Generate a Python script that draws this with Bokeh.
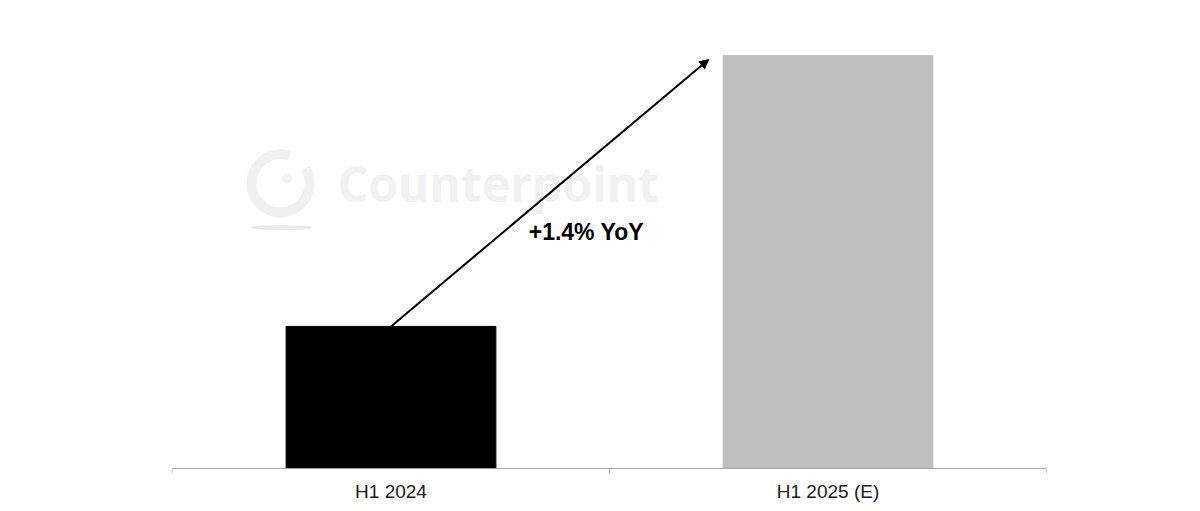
from bokeh.plotting import figure
from bokeh.models import Range1d, FactorRange, Span, Arrow, NormalHead
from bokeh.core.properties import value
from bokeh.embed import file_html
from bokeh.resources import INLINE

# ---- data ----
categories = ["H1 2024", "H1 2025 (E)"]
values = [100.0, 101.4]          # indexed volume (H1 2024 = 100)
bar_colors = ["#000000", "#bfbfbf"]
yoy_label = "+%.1f%% YoY" % ((values[1] / values[0] - 1) * 100)
watermark = "Counterpoint"

# ---- scale settings ----
AXIS_MIN = 99.266
Y_TOP = 101.581
Y_BOTTOM = 99.214
PX_PER_UNIT = 193.57

FONT = "Liberation Sans"

p = figure(x_range=FactorRange(*categories), y_range=Range1d(Y_BOTTOM, Y_TOP),
           width=1184, height=508, output_backend="svg", toolbar_location=None,
           y_axis_location=None,
           min_border_left=172, min_border_right=138, min_border_top=20, min_border_bottom=30)
p.outline_line_color = None
p.xgrid.visible = False
p.ygrid.visible = False
p.background_fill_color = "white"
p.border_fill_color = "white"

# x axis: labels only, baseline and boundary ticks drawn separately
ax = p.xaxis[0]
ax.axis_line_color = None
ax.major_tick_line_color = None
ax.major_tick_out = 0
ax.major_tick_in = 0
ax.major_label_standoff = 2
ax.major_label_text_font = FONT
ax.major_label_text_font_size = "19px"
ax.major_label_text_color = "#1a1a1a"

# ---- watermark ----
wm_y = 100.739
p.arc(x=[0.247], y=[wm_y], radius=29, radius_units="screen",
      start_angle=1.25, end_angle=0.55 + 6.283, line_color="#f0f0f0", line_width=10)
p.scatter(x=[0.262], y=[wm_y + 0.025], size=9, color="#f3f3f3")
p.ellipse(x=[0.25], y=[100.511], width=60, height=4, width_units="screen",
          height_units="screen", color="#e6e6e6", alpha=0.8)
p.text(x=[0.378], y=[wm_y], text=[watermark], text_font=value("Open Sans"),
       text_font_style="bold", text_font_size="48px", text_color="#f1f1f1",
       text_align="left", text_baseline="middle")

# ---- bars ----
p.vbar(x=categories, top=values, bottom=AXIS_MIN, width=0.48, color=bar_colors)

# ---- baseline + boundary ticks ----
p.add_layout(Span(location=AXIS_MIN, dimension="width", line_color="#a6a6a6", line_width=1))
bounds = [float(i) for i in range(len(categories) + 1)]
p.segment(x0=bounds, x1=bounds, y0=[AXIS_MIN] * len(bounds),
          y1=[AXIS_MIN - 5 / PX_PER_UNIT] * len(bounds), line_color="#a6a6a6", line_width=1)

# ---- growth arrow ----
i0 = categories.index(categories[0]) + 0.5
i1 = categories.index(categories[1]) + 0.5
p.add_layout(Arrow(x_start=i0, y_start=values[0], x_end=i1 - 0.273, y_end=values[1] - 4 / PX_PER_UNIT,
                   line_color="black", line_width=2,
                   end=NormalHead(size=9, fill_color="black", line_color="black")))

p.text(x=[0.947], y=[100.486], text=[yoy_label], text_font=value(FONT),
       text_font_style="bold", text_font_size="23px", text_color="#000000",
       text_align="center", text_baseline="middle")

open("out.html", "w").write(file_html(p, INLINE))
